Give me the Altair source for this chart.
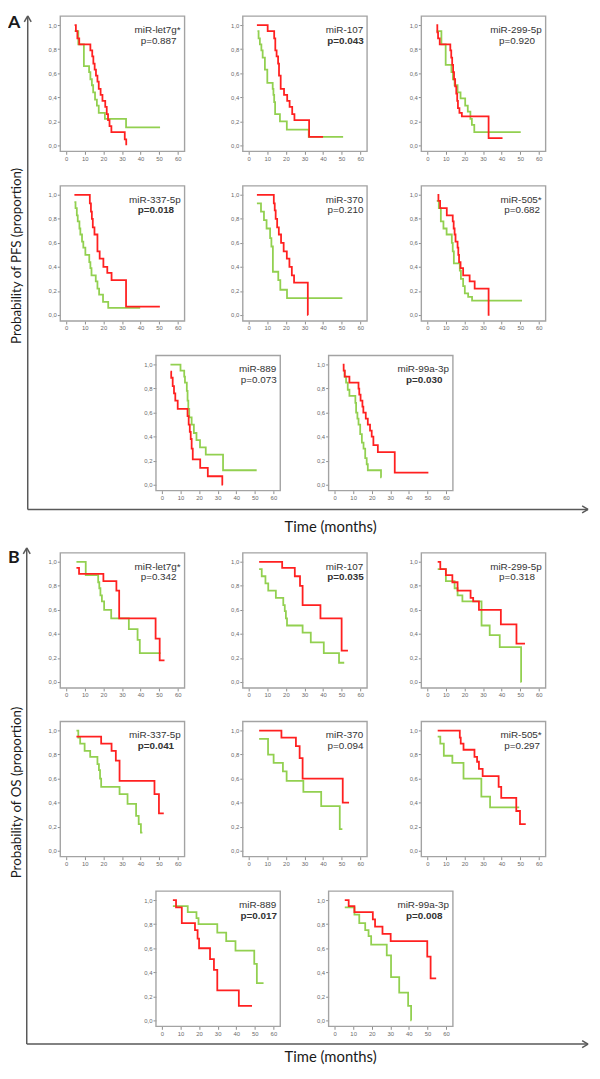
import altair as alt
import pandas as pd

# ---------------- data ----------------
NAMES = ["miR-let7g*", "miR-107", "miR-299-5p", "miR-337-5p",
         "miR-370", "miR-505*", "miR-889", "miR-99a-3p"]
P_PFS = ["0.887", "0.043", "0.920", "0.018", "0.210", "0.682", "0.073", "0.030"]
P_OS = ["0.342", "0.035", "0.318", "0.041", "0.094", "0.297", "0.017", "0.008"]

# Panel A (PFS) - red = high, green = low
A1_R_T = [4.5, 5.2, 6.0, 7.0, 13.0, 14.0, 14.6, 15.3, 16.0, 16.8, 17.5, 18.5, 19.5, 21.0, 21.8, 22.5, 23.3, 24.3, 31.5, 32.3]
A1_R_S = [1.00, 0.95, 0.89, 0.84, 0.79, 0.74, 0.68, 0.63, 0.58, 0.53, 0.47, 0.42, 0.37, 0.32, 0.26, 0.21, 0.16, 0.11, 0.05, 0.00]
A1_G_T = [4.5, 6.5, 9.5, 12.3, 13.0, 13.8, 14.5, 15.5, 16.5, 17.5, 20.8, 32.2, 50.5]
A1_G_S = [0.95, 0.84, 0.66, 0.61, 0.55, 0.50, 0.44, 0.38, 0.33, 0.27, 0.22, 0.15, 0.15]

A2_R_T = [4.4, 10.2, 13.7, 14.3, 15.0, 15.8, 16.3, 17.2, 19.0, 20.7, 22.0, 23.4, 24.6, 32.5, 40.0]
A2_R_S = [1.00, 0.95, 0.89, 0.79, 0.74, 0.68, 0.58, 0.47, 0.42, 0.37, 0.32, 0.26, 0.21, 0.07, 0.07]
A2_G_T = [4.7, 5.3, 6.0, 6.8, 7.5, 8.7, 10.0, 12.9, 13.3, 13.7, 14.2, 16.8, 20.5, 32.3, 50.8]
A2_G_S = [0.95, 0.89, 0.84, 0.79, 0.73, 0.63, 0.52, 0.47, 0.42, 0.36, 0.26, 0.20, 0.13, 0.07, 0.07]

A3_R_T = [4.9, 5.4, 5.8, 6.7, 12.4, 12.9, 13.4, 13.9, 14.4, 15.0, 15.6, 16.1, 16.5, 17.3, 18.6, 33.0, 40.5]
A3_R_S = [1.00, 0.94, 0.89, 0.84, 0.79, 0.73, 0.67, 0.61, 0.55, 0.49, 0.43, 0.37, 0.31, 0.27, 0.24, 0.06, 0.06]
A3_G_T = [5.0, 7.6, 9.9, 13.0, 13.8, 14.7, 16.3, 17.9, 20.4, 21.8, 23.2, 24.0, 25.3, 50.3]
A3_G_S = [0.95, 0.84, 0.67, 0.61, 0.55, 0.50, 0.44, 0.39, 0.33, 0.28, 0.22, 0.17, 0.11, 0.11]

A4_R_T = [4.4, 12.7, 13.3, 13.8, 14.3, 15.2, 16.8, 18.0, 20.0, 22.1, 24.4, 32.2, 50.4]
A4_R_S = [1.00, 0.93, 0.86, 0.80, 0.73, 0.67, 0.53, 0.47, 0.40, 0.35, 0.29, 0.07, 0.07]
A4_G_T = [4.4, 5.0, 5.7, 6.2, 7.1, 7.6, 8.5, 9.2, 10.3, 12.4, 13.0, 13.6, 15.9, 16.8, 17.7, 19.8, 22.6, 39.8]
A4_G_S = [0.94, 0.89, 0.83, 0.78, 0.72, 0.67, 0.61, 0.56, 0.50, 0.44, 0.39, 0.33, 0.28, 0.22, 0.17, 0.11, 0.06, 0.06]

A5_R_T = [4.4, 13.5, 14.0, 14.5, 15.3, 16.2, 17.4, 18.8, 20.5, 21.9, 23.2, 24.4, 31.8, 32.0]
A5_R_S = [1.00, 0.93, 0.87, 0.80, 0.73, 0.67, 0.60, 0.53, 0.47, 0.40, 0.33, 0.27, 0.00, 0.00]
A5_G_T = [4.4, 6.6, 8.2, 9.6, 11.5, 12.2, 13.0, 15.9, 17.0, 20.6, 50.4]
A5_G_S = [0.93, 0.86, 0.79, 0.72, 0.64, 0.57, 0.36, 0.29, 0.21, 0.14, 0.14]

A6_R_T = [5.5, 6.0, 6.9, 10.5, 13.7, 14.2, 14.7, 15.2, 16.3, 16.7, 17.1, 17.9, 19.3, 22.8, 25.5, 33.0, 33.5]
A6_R_S = [1.00, 0.95, 0.89, 0.83, 0.78, 0.72, 0.67, 0.61, 0.56, 0.50, 0.44, 0.39, 0.33, 0.28, 0.22, 0.00, 0.00]
A6_G_T = [5.1, 6.2, 7.3, 8.7, 10.4, 13.2, 13.7, 14.3, 17.5, 18.1, 19.3, 20.2, 22.0, 24.1, 51.0]
A6_G_S = [0.95, 0.89, 0.78, 0.72, 0.67, 0.60, 0.53, 0.43, 0.37, 0.30, 0.24, 0.18, 0.15, 0.12, 0.12]

A7_R_T = [4.6, 5.0, 5.8, 6.5, 7.2, 8.5, 13.8, 14.4, 15.0, 15.5, 16.0, 16.6, 20.6, 24.7, 32.5, 32.9]
A7_R_S = [0.94, 0.89, 0.82, 0.76, 0.70, 0.63, 0.57, 0.50, 0.44, 0.38, 0.30, 0.21, 0.14, 0.07, 0.00, 0.00]
A7_G_T = [4.6, 10.0, 12.0, 12.4, 13.4, 13.8, 14.2, 14.7, 16.0, 17.2, 18.6, 20.5, 23.6, 32.9, 51.0]
A7_G_S = [1.00, 0.95, 0.90, 0.85, 0.78, 0.70, 0.63, 0.56, 0.50, 0.43, 0.37, 0.31, 0.25, 0.12, 0.12]

A8_R_T = [4.4, 4.9, 5.5, 8.0, 12.9, 13.3, 14.0, 15.0, 15.5, 16.8, 17.9, 19.1, 20.0, 20.9, 23.3, 32.4, 50.5]
A8_R_S = [1.00, 0.95, 0.90, 0.85, 0.80, 0.75, 0.70, 0.65, 0.60, 0.55, 0.50, 0.45, 0.40, 0.33, 0.27, 0.10, 0.10]
A8_G_T = [4.8, 5.4, 6.2, 7.1, 8.0, 11.2, 11.6, 12.3, 12.9, 13.8, 14.7, 15.6, 16.5, 17.3, 17.9, 25.0, 25.2]
A8_G_S = [0.95, 0.90, 0.85, 0.79, 0.74, 0.68, 0.60, 0.55, 0.50, 0.42, 0.35, 0.30, 0.22, 0.17, 0.12, 0.06, 0.06]

# Panel B (OS)
B1_R_T = [5.5, 6.9, 20.0, 27.0, 28.5, 48.1, 50.3, 52.9]
B1_R_S = [0.95, 0.90, 0.84, 0.76, 0.53, 0.36, 0.18, 0.18]
B1_G_T = [5.5, 10.5, 17.2, 17.8, 18.4, 19.2, 20.4, 24.2, 33.7, 38.4, 39.6, 50.8]
B1_G_S = [1.00, 0.89, 0.83, 0.78, 0.72, 0.67, 0.60, 0.53, 0.44, 0.35, 0.24, 0.24]

B2_R_T = [5.6, 18.0, 24.8, 27.6, 29.0, 38.6, 50.0, 53.4]
B2_R_S = [1.00, 0.95, 0.88, 0.80, 0.64, 0.53, 0.26, 0.26]
B2_G_T = [5.6, 7.0, 9.0, 10.5, 14.6, 18.6, 19.4, 20.0, 20.6, 29.0, 33.4, 40.4, 48.6, 51.4]
B2_G_S = [0.94, 0.88, 0.82, 0.76, 0.70, 0.64, 0.59, 0.53, 0.47, 0.41, 0.33, 0.24, 0.16, 0.16]

B3_R_T = [5.6, 7.0, 10.0, 13.5, 16.3, 23.3, 24.7, 27.8, 39.6, 48.0, 52.6]
B3_R_S = [1.00, 0.94, 0.89, 0.83, 0.76, 0.70, 0.67, 0.60, 0.48, 0.32, 0.32]
B3_G_T = [5.6, 10.0, 14.7, 16.3, 18.9, 29.2, 33.6, 39.0, 50.5, 50.7]
B3_G_S = [0.94, 0.84, 0.78, 0.72, 0.67, 0.47, 0.39, 0.29, 0.00, 0.00]

B4_R_T = [5.5, 18.8, 24.4, 26.7, 28.7, 47.5, 49.9, 52.5]
B4_R_S = [0.95, 0.89, 0.83, 0.75, 0.58, 0.47, 0.31, 0.31]
B4_G_T = [5.5, 6.5, 7.5, 9.9, 12.9, 16.8, 17.6, 18.2, 18.8, 28.7, 33.0, 37.6, 39.0, 40.2, 41.0]
B4_G_S = [1.00, 0.94, 0.89, 0.83, 0.78, 0.72, 0.67, 0.60, 0.53, 0.47, 0.39, 0.29, 0.22, 0.15, 0.15]

B5_R_T = [5.6, 17.6, 25.4, 27.4, 29.0, 50.6, 54.0]
B5_R_S = [1.00, 0.94, 0.87, 0.77, 0.60, 0.40, 0.40]
B5_G_T = [5.6, 10.4, 13.4, 18.4, 20.4, 29.4, 39.0, 49.0, 50.4]
B5_G_S = [0.93, 0.80, 0.73, 0.66, 0.58, 0.49, 0.37, 0.18, 0.18]

B6_R_T = [5.6, 17.5, 18.0, 19.5, 25.4, 26.8, 27.8, 29.8, 38.4, 39.8, 47.9, 49.9, 53.0]
B6_R_S = [1.00, 0.94, 0.89, 0.84, 0.78, 0.74, 0.68, 0.62, 0.53, 0.44, 0.33, 0.22, 0.22]
B6_G_T = [5.6, 7.0, 8.9, 13.5, 19.5, 29.1, 33.8, 49.5]
B6_G_S = [0.95, 0.89, 0.79, 0.73, 0.60, 0.45, 0.36, 0.36]

B7_R_T = [5.9, 7.6, 10.7, 17.8, 19.2, 20.0, 25.9, 28.0, 29.8, 41.4, 48.5]
B7_R_S = [1.00, 0.94, 0.81, 0.75, 0.68, 0.60, 0.51, 0.42, 0.25, 0.12, 0.12]
B7_G_T = [5.9, 13.9, 18.6, 19.7, 29.8, 34.6, 39.6, 49.7, 51.1, 54.7]
B7_G_S = [0.95, 0.90, 0.85, 0.80, 0.73, 0.66, 0.58, 0.47, 0.31, 0.31]

B8_R_T = [5.5, 7.6, 10.7, 20.6, 21.8, 25.8, 30.2, 49.9, 51.7, 54.7]
B8_R_S = [1.00, 0.95, 0.90, 0.84, 0.78, 0.72, 0.66, 0.53, 0.35, 0.35]
B8_G_T = [5.5, 10.7, 13.3, 16.5, 18.3, 19.7, 28.1, 30.4, 34.8, 39.6, 41.2, 41.4]
B8_G_S = [0.94, 0.88, 0.81, 0.75, 0.70, 0.63, 0.54, 0.36, 0.23, 0.12, 0.00, 0.00]

CURVES_A = [(A1_R_T, A1_R_S, A1_G_T, A1_G_S), (A2_R_T, A2_R_S, A2_G_T, A2_G_S),
            (A3_R_T, A3_R_S, A3_G_T, A3_G_S), (A4_R_T, A4_R_S, A4_G_T, A4_G_S),
            (A5_R_T, A5_R_S, A5_G_T, A5_G_S), (A6_R_T, A6_R_S, A6_G_T, A6_G_S),
            (A7_R_T, A7_R_S, A7_G_T, A7_G_S), (A8_R_T, A8_R_S, A8_G_T, A8_G_S)]
CURVES_B = [(B1_R_T, B1_R_S, B1_G_T, B1_G_S), (B2_R_T, B2_R_S, B2_G_T, B2_G_S),
            (B3_R_T, B3_R_S, B3_G_T, B3_G_S), (B4_R_T, B4_R_S, B4_G_T, B4_G_S),
            (B5_R_T, B5_R_S, B5_G_T, B5_G_S), (B6_R_T, B6_R_S, B6_G_T, B6_G_S),
            (B7_R_T, B7_R_S, B7_G_T, B7_G_S), (B8_R_T, B8_R_S, B8_G_T, B8_G_S)]

X_TICKS = [0, 10, 20, 30, 40, 50, 60]
Y_TICKS = [0.0, 0.2, 0.4, 0.6, 0.8, 1.0]

# ---------------- layout ----------------
W, H = 592, 1063
PW, PH = 126, 137
XDOM = [-3.2, 63.7]
YDOM = [-0.05, 1.075]
COLS = [53, 238, 419]
COLS3 = [150, 325]
ROWS_A = [1, 173, 345]
ROWS_B = [545, 716, 888]

RED = "#ff2020"
GREEN = "#92d050"
AXIS_GRAY = "#595959"
ONE = pd.DataFrame({"k": [0]})


def slots(rows):
    return [(COLS[0], rows[0]), (COLS[1], rows[0]), (COLS[2], rows[0]),
            (COLS[0], rows[1]), (COLS[1], rows[1]), (COLS[2], rows[1]),
            (COLS3[0], rows[2]), (COLS3[1], rows[2])]


ARIAL = {"m": 833, "i": 222, "R": 722, "-": 333, "l": 222, "e": 556, "t": 278,
         "g": 556, "*": 389, "p": 556, "=": 584, ".": 278, "a": 556}
ARIAL_B = {"p": 611, "=": 584, ".": 278}


def text_w(s, bold=False, size=10):
    tab = ARIAL_B if bold else ARIAL
    return sum(tab.get(c, 556) for c in s) * size / 1000.0


def km_panel(curves, name, pval, x0, y0):
    rt, rs, gt, gs = curves
    recs = [{"t": t, "s": s, "grp": "low"} for t, s in zip(gt, gs)]
    recs += [{"t": t, "s": s, "grp": "high"} for t, s in zip(rt, rs)]
    df = pd.DataFrame(recs)
    xs = alt.Scale(domain=XDOM, range=[x0, x0 + PW], nice=False, zero=False)
    ys = alt.Scale(domain=YDOM, range=[y0 + PH, y0], nice=False, zero=False)
    common = dict(grid=False, domain=False, tickSize=3, tickColor="#8c8c8c", tickWidth=1,
                  labelFont="Liberation Sans", labelFontSize=6, labelColor="#6a6a6a",
                  labelPadding=1, title=None, labelFlush=False)
    xax = alt.Axis(orient="bottom", offset=(y0 + PH) - H, values=X_TICKS, **common)
    yax = alt.Axis(orient="left", offset=-x0, values=Y_TICKS,
                   labelExpr="replace(format(datum.value, '.1f'), '.', ',')", **common)
    lines = alt.Chart(df).mark_line(interpolate="step-after", strokeWidth=1.8).encode(
        x=alt.X("t:Q", scale=xs, axis=xax),
        y=alt.Y("s:Q", scale=ys, axis=yax),
        color=alt.Color("grp:N", scale=alt.Scale(domain=["low", "high"], range=[GREEN, RED]),
                        legend=None))
    frame = alt.Chart(ONE).mark_rect(fillOpacity=0, stroke="#a3a3a3", strokeWidth=1.4).encode(
        x=alt.value(x0), x2=alt.value(x0 + PW), y=alt.value(y0), y2=alt.value(y0 + PH))
    sig = float(pval) < 0.05
    ptxt = "p=" + pval
    nw = text_w(name)
    pw = text_w(ptxt, bold=sig)
    xr = x0 + PW - 4
    name_t = alt.Chart(ONE).mark_text(align="right", baseline="middle", font="Liberation Sans",
                                      fontSize=10, color="#333333").encode(
        x=alt.value(xr), y=alt.value(y0 + 14), text=alt.value(name))
    p_t = alt.Chart(ONE).mark_text(align="right", baseline="middle", font="Liberation Sans",
                                   fontSize=10, color="#333333",
                                   fontWeight="bold" if sig else "normal").encode(
        x=alt.value(xr - (nw - pw) / 2.0 + 1), y=alt.value(y0 + 25), text=alt.value(ptxt))
    return [frame, lines, name_t, p_t]


def seg(x1, y1, x2, y2):
    return alt.Chart(ONE).mark_rule(color=AXIS_GRAY, strokeWidth=1.5).encode(
        x=alt.value(x1), y=alt.value(y1), x2=alt.value(x2), y2=alt.value(y2))


def label(txt, x, y, size, bold=False, angle=0, align="center"):
    return alt.Chart(ONE).mark_text(font="Lato", fontSize=size, color="#1a1a1a",
                                    fontWeight="bold" if bold else "normal",
                                    angle=angle, align=align, baseline="middle").encode(
        x=alt.value(x), y=alt.value(y), text=alt.value(txt))


def frame_axes(x, ytop, ybot, xright):
    return [seg(x, ytop, x, ybot), seg(x, ybot, xright, ybot),
            seg(x, ytop, x - 3.5, ytop + 6), seg(x, ytop, x + 3.5, ytop + 6),
            seg(xright, ybot, xright - 6, ybot - 3.5), seg(xright, ybot, xright - 6, ybot + 3.5)]


decor = []
decor += frame_axes(20, 0.8, 501, 588)
decor += frame_axes(19, 540, 1043, 588)
decor += [label("A", 0, 8, 18, bold=True, align="left"),
          label("B", 0, 550, 18, bold=True, align="left"),
          label("Probability of PFS (proportion)", 9.5, 244, 13.5, angle=270),
          label("Probability of OS (proportion)", 9.5, 788, 13.5, angle=270),
          label("Time (months)", 327, 519, 15),
          label("Time (months)", 327, 1056, 15)]

layers = list(decor)
for i, (x0, y0) in enumerate(slots(ROWS_A)):
    layers += km_panel(CURVES_A[i], NAMES[i], P_PFS[i], x0, y0)
for i, (x0, y0) in enumerate(slots(ROWS_B)):
    layers += km_panel(CURVES_B[i], NAMES[i], P_OS[i], x0, y0)

chart = alt.layer(*layers).resolve_scale(
    x="independent", y="independent"
).resolve_axis(
    x="independent", y="independent"
).properties(
    width=W, height=H, padding=0, background="white",
    autosize=alt.AutoSizeParams(type="none")
).configure_view(strokeWidth=0)

chart.save("out.html", embed_options={"renderer": "svg", "actions": False})
